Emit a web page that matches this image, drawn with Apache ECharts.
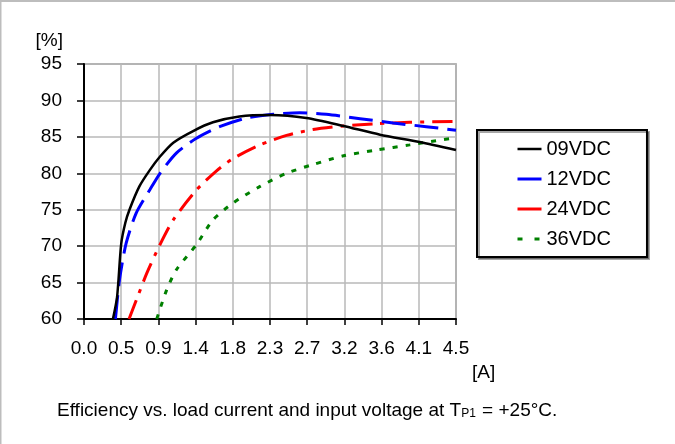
<!DOCTYPE html>
<html>
<head>
<meta charset="utf-8">
<script src="https://cdn.jsdelivr.net/npm/echarts@6/dist/echarts.min.js"></script>
<style>
html,body{margin:0;padding:0;background:#fff;}
#c{width:675px;height:444px;}
</style>
</head>
<body>
<div id="c"></div>
<script>
// ---- data ----
var seriesNames = ['09VDC', '12VDC', '24VDC', '36VDC'];
var xTickLabels = ['0.0','0.5','0.9','1.4','1.8','2.3','2.7','3.2','3.6','4.1','4.5'];
var yTickValues = [60, 65, 70, 75, 80, 85, 90, 95];

var x09 = [0.35, 0.40, 0.45, 0.50, 0.55, 0.67, 0.80, 0.92, 1.08, 1.32, 1.56, 1.88, 2.25, 2.69, 3.14, 3.58, 4.06, 4.50];
var y09 = [60.0, 63.0, 70.3, 73.2, 75.0, 78.2, 80.5, 82.3, 84.2, 85.8, 87.0, 87.8, 88.0, 87.6, 86.5, 85.3, 84.3, 83.2];

var x12 = [0.38, 0.43, 0.51, 0.63, 0.80, 0.92, 1.12, 1.36, 1.64, 1.97, 2.29, 2.61, 2.93, 3.34, 3.74, 4.14, 4.50];
var y12 = [60.0, 65.4, 70.4, 74.5, 77.8, 80.0, 82.8, 84.8, 86.4, 87.6, 88.1, 88.3, 88.1, 87.5, 86.9, 86.4, 85.9];

var x24 = [0.545, 0.65, 0.76, 0.91, 1.08, 1.36, 1.60, 1.80, 2.13, 2.45, 2.77, 3.14, 3.54, 3.94, 4.50];
var y24 = [60.0, 63.1, 66.3, 70.0, 73.6, 77.7, 80.3, 82.0, 83.9, 85.2, 86.0, 86.5, 86.8, 87.0, 87.1];

var x36 = [0.88, 1.00, 1.12, 1.36, 1.56, 1.80, 2.13, 2.45, 2.77, 3.14, 3.54, 3.94, 4.50];
var y36 = [60.0, 64.0, 66.8, 70.2, 73.6, 75.9, 78.2, 80.0, 81.2, 82.4, 83.2, 83.9, 84.9];

function pairs(xs, ys) { return xs.map(function (x, i) { return [x, ys[i]]; }); }

var FONT = "'Liberation Sans', Arial, sans-serif";
var chart = echarts.init(document.getElementById('c'), null, {renderer: 'canvas'});

var option = {
  backgroundColor: '#fff',
  animation: false,
  textStyle: {fontFamily: FONT},
  grid: {
    left: 84, right: 219, top: 64, bottom: 125,
    show: true, borderColor: '#8c8c8c', borderWidth: 1.5, backgroundColor: 'transparent'
  },
  xAxis: {
    type: 'value', min: 0, max: 4.5, interval: 0.45,
    name: '[A]', nameLocation: 'end', nameGap: 16,
    nameTextStyle: {fontSize: 19, color: '#000', fontFamily: FONT, align: 'left', verticalAlign: 'top', padding: [44, 0, 0, 0]},
    axisLine: {show: true, onZero: false, lineStyle: {color: '#000', width: 2}},
    axisTick: {show: true, inside: false, length: 6, lineStyle: {color: '#000', width: 1.5}},
    axisLabel: {
      margin: 20, fontSize: 19, color: '#000', fontFamily: FONT,
      formatter: function (v) { return xTickLabels[Math.round(v / 0.45)]; }
    },
    splitLine: {show: true, lineStyle: {color: '#b8b8b8', width: 1.5}}
  },
  yAxis: {
    type: 'value', min: 60, max: 95, interval: 5,
    name: '[%]', nameLocation: 'end', nameGap: 23,
    nameTextStyle: {fontSize: 19, color: '#000', fontFamily: FONT, align: 'right', verticalAlign: 'middle', padding: [0, 21, 0, 0]},
    axisLine: {show: true, onZero: false, lineStyle: {color: '#000', width: 2}},
    axisTick: {show: true, inside: false, length: 7, lineStyle: {color: '#000', width: 1.5}},
    axisLabel: {margin: 22, fontSize: 19, color: '#000', fontFamily: FONT,
      formatter: function (v) { return yTickValues.indexOf(v) >= 0 ? String(v) : ''; }},
    splitLine: {show: true, lineStyle: {color: '#b8b8b8', width: 1.5}}
  },
  legend: {
    orient: 'vertical', left: 477, top: 130,
    padding: [9, 36, 8, 39],
    itemGap: 10, itemWidth: 24, itemHeight: 14,
    backgroundColor: '#fff', borderColor: '#000', borderWidth: 2,
    shadowColor: 'rgba(0,0,0,0.35)', shadowBlur: 0, shadowOffsetX: 2, shadowOffsetY: 2,
    itemStyle: {color: 'transparent', borderColor: 'transparent', borderWidth: 0, opacity: 0},
    textStyle: {fontSize: 20, color: '#000', fontFamily: FONT, lineHeight: 20},
    data: [
      {name: seriesNames[0], lineStyle: {type: 'solid', width: 2.5}},
      {name: seriesNames[1], lineStyle: {type: 'solid', width: 3}},
      {name: seriesNames[2], lineStyle: {type: 'solid', width: 3}},
      {name: seriesNames[3], lineStyle: {type: [5, 12], width: 3}}
    ]
  },
  series: [
    {name: seriesNames[0], type: 'line', data: pairs(x09, y09), symbol: 'none', smooth: 0.25,
      lineStyle: {color: '#000000', width: 2.5, type: 'solid'}, itemStyle: {color: '#000000'}, z: 5},
    {name: seriesNames[1], type: 'line', data: pairs(x12, y12), symbol: 'none', smooth: 0.25,
      lineStyle: {color: '#0000ff', width: 3, type: [24, 9]}, itemStyle: {color: '#0000ff'}, z: 4},
    {name: seriesNames[2], type: 'line', data: pairs(x24, y24), symbol: 'none', smooth: 0.25,
      lineStyle: {color: '#ff0000', width: 3, type: [20, 8, 4, 8]}, itemStyle: {color: '#ff0000'}, z: 3},
    {name: seriesNames[3], type: 'line', data: pairs(x36, y36), symbol: 'none', smooth: 0.25,
      lineStyle: {color: '#008000', width: 3, type: [5, 8]}, itemStyle: {color: '#008000'}, z: 2}
  ],
  graphic: [
    {type: 'rect', left: 0, top: 0, shape: {width: 675, height: 2}, style: {fill: '#bdbdbd'}, silent: true},
    {type: 'rect', left: 0, top: 0, shape: {width: 1.5, height: 444}, style: {fill: '#bdbdbd'}, silent: true},
    {type: 'text', left: 57, top: 401,
      style: {
        text: '{m|Efficiency vs. load current and input voltage at T}{s|P1}{m| = +25°C.}',
        rich: {
          m: {fontSize: 19, fontFamily: FONT, fill: '#000', color: '#000', lineHeight: 22, verticalAlign: 'bottom'},
          s: {fontSize: 12, fontFamily: FONT, fill: '#000', color: '#000', lineHeight: 22, verticalAlign: 'bottom', padding: [0, 1, 0, 0]}
        }
      }
    }
  ]
};
chart.setOption(option);
</script>
</body>
</html>
